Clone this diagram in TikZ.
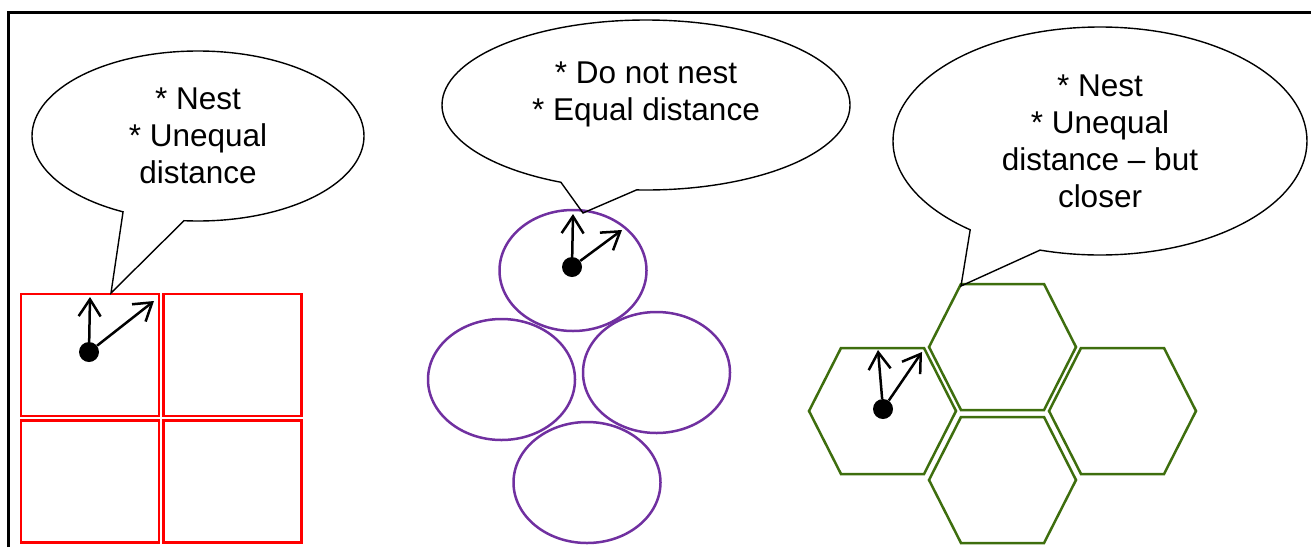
\documentclass[tikz,border=0pt]{standalone}
\usepackage{fontspec}
\setmainfont{Liberation Sans}
\usetikzlibrary{arrows.meta,shapes.callouts,shapes.geometric}

\definecolor{cellred}{RGB}{255,0,0}
\definecolor{cellpurple}{RGB}{112,48,160}
\definecolor{cellgreen}{RGB}{62,110,14}

\tikzset{
  bubble/.style={ellipse callout, draw=black, line width=1.4pt, inner sep=0pt, align=center,
    font=\fontsize{31.5}{37}\selectfont, callout pointer arc=22},
  sqcell/.style={draw=cellred, line width=2.5pt, inner sep=0pt, minimum width=138pt, minimum height=122pt},
  rndcell/.style={ellipse, draw=cellpurple, line width=2.5pt, inner sep=0pt, minimum width=147pt, minimum height=121pt},
  hexcell/.style={draw=cellgreen, line width=2.5pt, line join=miter},
  centre/.style={circle, fill=black, inner sep=0pt, minimum size=20pt},
  nbr/.style={-{Straight Barb[length=17pt,width=22pt]}, line width=2.5pt},
}

\begin{document}
\begin{tikzpicture}[x=1pt,y=-1pt]
                \useasboundingbox (0,0) rectangle (1311,547);
                \draw[line width=2.5pt] (8.5,547) -- (8.5,12.5) -- (1311,12.5);

                % square grid
                \node[sqcell] (sq1) at (90,355) {};
                \node[sqcell] (sq2) at (232.5,355) {};
                \node[sqcell] (sq3) at (90,481.5) {};
                \node[sqcell] (sq4) at (232.5,481.5) {};

                % circles
                \node[rndcell] (rc1) at (573,270.5) {};
                \node[rndcell] (rc2) at (501.5,379.5) {};
                \node[rndcell] (rc3) at (656.5,372.5) {};
                \node[rndcell] (rc4) at (587,482.5) {};

                % hexagons
                \foreach \cx/\cy in {882.5/411, 1002.5/347, 1122.5/411, 1002.5/480}
                    \draw[hexcell] (\cx-73.5,\cy) -- (\cx-41.5,\cy-63) -- (\cx+41.5,\cy-63)
                        -- (\cx+73.5,\cy) -- (\cx+41.5,\cy+63) -- (\cx-41.5,\cy+63) -- cycle;

                % centres and neighbour arrows
                \node[centre] (dotA) at (89,352) {};
                \node[centre] (dotB) at (572,267) {};
                \node[centre] (dotC) at (883,409) {};

                \coordinate (upA) at (90,297);
                \coordinate (diagA) at (154,301);
                \coordinate (upB) at (573,214);
                \coordinate (diagB) at (622,230);
                \coordinate (upC) at (878,350);
                \coordinate (diagC) at (922,352);

                \draw[nbr] (dotA) -- (upA);
                \draw[nbr] (dotA) -- (diagA);
                \draw[nbr] (dotB) -- (upB);
                \draw[nbr] (dotB) -- (diagB);
                \draw[nbr] (dotC) -- (upC);
                \draw[nbr] (dotC) -- (diagC);

                % callouts
                \coordinate (tipA) at (111,293);
                \coordinate (tipB) at (583,213);
                \coordinate (tipC) at (961,286);

                \node[bubble, minimum width=332pt, minimum height=170pt, callout absolute pointer={(tipA)}]
                    (noteA) at (198,136) {* Nest\\* Unequal\\distance};
                \node[bubble, minimum width=408pt, minimum height=170pt, callout absolute pointer={(tipB)}]
                    (noteB) at (646,105) {* Do not nest\\* Equal distance\\[-9pt]\mbox{}};
                \node[bubble, minimum width=414pt, minimum height=228pt, callout absolute pointer={(tipC)}]
                    (noteC) at (1100,141) {* Nest\\* Unequal\\distance -- but\\closer};
            \end{tikzpicture}
\end{document}
